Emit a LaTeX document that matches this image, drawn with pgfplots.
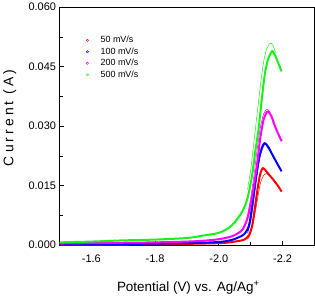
\documentclass[border=0pt]{standalone}
\usepackage{fontspec}
\setmainfont{Liberation Sans}
\newfontfamily\spaced[LetterSpace=22]{Liberation Sans}
\usepackage{pgfplots}
\pgfplotsset{compat=1.18}
\definecolor{cR}{rgb}{1,0,0}
\definecolor{cB}{rgb}{0,0,1}
\definecolor{cM}{rgb}{1,0,1}
\definecolor{cG}{rgb}{0.1,0.95,0.1}
\begin{document}
\begin{tikzpicture}[x=1bp,y=1bp]
\begin{axis}[
  scale only axis,
  width=255bp, height=238bp,
  x dir=reverse,
  xmin=-2.3, xmax=-1.5,
  ymin=0, ymax=0.060,
  xtick={-1.6,-1.8,-2.0,-2.2},
  minor xtick={-1.7,-1.9,-2.1},
  ytick={0,0.015,0.030,0.045,0.060},
  minor ytick={0.0075,0.0225,0.0375,0.0525},
  tick align=inside,
  xtick pos=bottom, ytick pos=left,
  major tick length=4bp, minor tick length=3bp,
  axis line style={line width=1.1pt},
  every tick/.style={black, line width=0.8pt},
  /pgf/number format/assume math mode=true,
  xticklabel style={yshift=-6bp, /pgf/number format/fixed, /pgf/number format/fixed zerofill, /pgf/number format/precision=1},
  yticklabel style={/pgf/number format/fixed, /pgf/number format/fixed zerofill, /pgf/number format/precision=3},
  scaled y ticks=false,
  tick label style={font=\fontsize{11}{12}\selectfont},
  xlabel={Potential (V) vs. Ag/Ag\textsuperscript{+}},
  ylabel={\spaced Current (A)},
  xlabel style={font=\fontsize{13.5}{15}\selectfont, at={(axis description cs:0.505,-0.18)}, anchor=center},
  ylabel style={font=\fontsize{14}{15}\selectfont, at={(axis description cs:-0.195,0.535)}, anchor=center},
  legend style={draw=none, fill=none, at={(axis cs:-1.5737,0.0537)}, anchor=north west,
    font=\fontsize{9}{10}\selectfont, row sep=-0.5bp,
    /tikz/every odd column/.append style={column sep=10bp}},
  legend cell align=left,
]
% red 50 mV/s
\addplot[cR, line width=2pt, smooth, forget plot] coordinates {
(-1.50,0.0001)(-1.80,0.0002)(-2.00,0.0005)(-2.05,0.0009)(-2.08,0.0014)(-2.095,0.0026)
(-2.105,0.0051)(-2.115,0.0105)(-2.125,0.0160)(-2.132,0.0185)(-2.138,0.0194)(-2.145,0.0190)
(-2.155,0.0180)(-2.17,0.0166)(-2.185,0.0150)(-2.197,0.0135)};
\addplot[cR, line width=0.5pt, smooth, forget plot] coordinates {
(-2.09,0.0015)(-2.10,0.0030)(-2.11,0.0065)(-2.12,0.0110)(-2.13,0.0155)(-2.14,0.0175)
(-2.148,0.0180)(-2.158,0.0176)(-2.17,0.0166)};
% blue 100 mV/s
\addplot[cB, line width=2pt, smooth, forget plot] coordinates {
(-1.50,0.0002)(-1.70,0.0003)(-1.90,0.0005)(-2.00,0.0008)(-2.04,0.0013)(-2.06,0.0019)
(-2.08,0.0028)(-2.095,0.0051)(-2.105,0.0102)(-2.115,0.0165)(-2.125,0.0215)(-2.135,0.0245)
(-2.143,0.0257)(-2.15,0.0253)(-2.16,0.0240)(-2.17,0.0225)(-2.185,0.0203)(-2.197,0.0186)};
\addplot[cB, line width=0.5pt, smooth, forget plot] coordinates {
(-2.09,0.0030)(-2.10,0.0060)(-2.11,0.0115)(-2.12,0.0175)(-2.13,0.0225)(-2.14,0.0250)
(-2.148,0.0255)(-2.158,0.0247)(-2.17,0.0225)};
% magenta 200 mV/s
\addplot[cM, line width=2pt, smooth, forget plot] coordinates {
(-1.50,0.0004)(-1.60,0.0005)(-1.70,0.0006)(-1.80,0.0007)(-1.90,0.0009)(-1.95,0.0011)
(-2.00,0.0015)(-2.04,0.0022)(-2.06,0.0030)(-2.075,0.0040)(-2.09,0.0068)(-2.10,0.0105)
(-2.11,0.0150)(-2.12,0.0205)(-2.13,0.0270)(-2.14,0.0315)(-2.15,0.0335)(-2.155,0.0337)
(-2.165,0.0325)(-2.175,0.0302)(-2.185,0.0283)(-2.197,0.0262)};
\addplot[cM, line width=0.5pt, smooth, forget plot] coordinates {
(-2.08,0.0045)(-2.09,0.0075)(-2.10,0.0120)(-2.11,0.0175)(-2.12,0.0240)(-2.13,0.0295)
(-2.14,0.0330)(-2.15,0.0342)(-2.158,0.0338)(-2.168,0.0318)};
% green 500 mV/s
\addplot[cG, line width=2pt, smooth, forget plot] coordinates {
(-1.50,0.0007)(-1.60,0.0009)(-1.70,0.0012)(-1.80,0.0014)(-1.90,0.0018)(-1.95,0.0024)
(-2.00,0.0031)(-2.03,0.0043)(-2.05,0.0058)(-2.07,0.0080)(-2.085,0.0105)(-2.095,0.0136)
(-2.105,0.0180)(-2.115,0.0240)(-2.125,0.0295)(-2.135,0.0370)(-2.145,0.0435)(-2.155,0.0470)
(-2.165,0.0487)(-2.17,0.0488)(-2.18,0.0472)(-2.19,0.0452)(-2.197,0.0438)};
\addplot[cG, line width=0.5pt, smooth, forget plot] coordinates {
(-2.09,0.0140)(-2.10,0.0190)(-2.11,0.0260)(-2.12,0.0330)(-2.13,0.0400)(-2.14,0.0460)
(-2.15,0.0495)(-2.16,0.0508)(-2.165,0.0509)(-2.17,0.0503)(-2.178,0.0485)};
\addlegendimage{only marks, mark=o, mark size=1.2pt, cR}
\addlegendentry{50 mV/s}
\addlegendimage{only marks, mark=o, mark size=1.2pt, cB}
\addlegendentry{100 mV/s}
\addlegendimage{only marks, mark=o, mark size=1.2pt, cM}
\addlegendentry{200 mV/s}
\addlegendimage{only marks, mark=o, mark size=1.2pt, cG}
\addlegendentry{500 mV/s}
\end{axis}
\end{tikzpicture}
\end{document}
